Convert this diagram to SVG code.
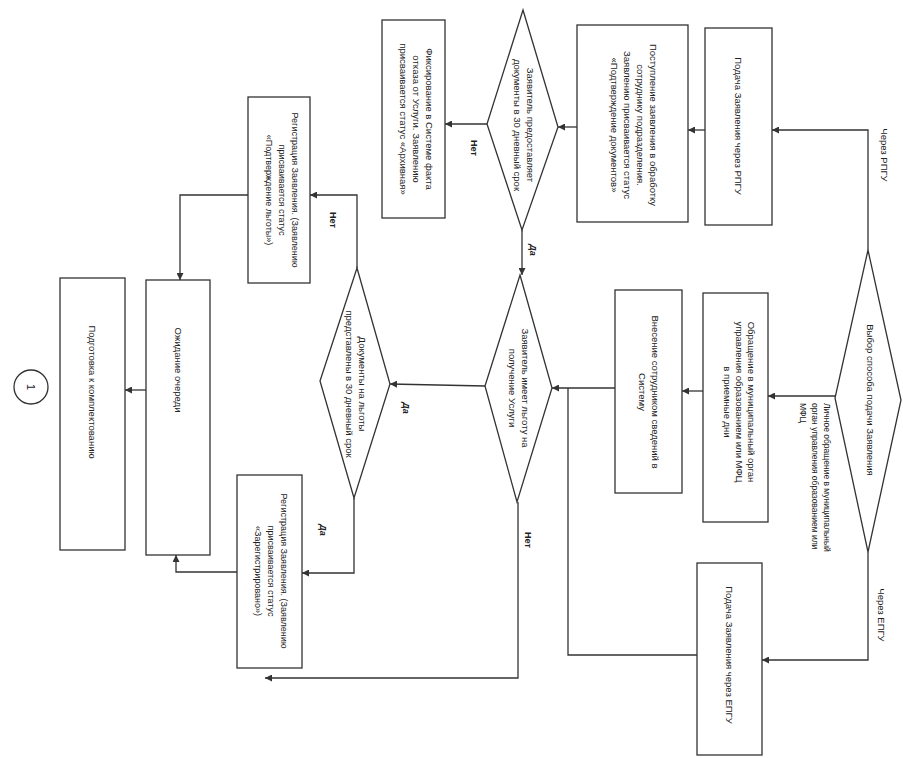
<svg xmlns="http://www.w3.org/2000/svg" width="903" height="758" viewBox="0 0 903 758">
<style>
.s{fill:#fff;stroke:#333;stroke-width:1.3}
.t{font-family:"Liberation Sans",Arial,sans-serif;font-size:9.5px;fill:#222;text-anchor:middle}
.l{font-family:"Liberation Sans",Arial,sans-serif;font-size:9px;fill:#222;text-anchor:middle;font-weight:bold}
.c{fill:none;stroke:#333;stroke-width:1.3}
</style>
<defs>
<marker id="a" viewBox="0 0 10 10" refX="10" refY="5" markerWidth="7" markerHeight="7" orient="auto" markerUnits="userSpaceOnUse">
<path d="M0,0 L10,5 L0,10 z" fill="#333"/>
</marker>
</defs>
<rect width="903" height="758" fill="#fff"/>
<g id="connectors">
<polyline class="c" points="868,250 868,130 772,130" marker-end="url(#a)"/>
<line class="c" x1="705" y1="130" x2="688" y2="130" marker-end="url(#a)"/>
<line class="c" x1="577" y1="127" x2="558" y2="127" marker-end="url(#a)"/>
<line class="c" x1="487" y1="124" x2="445" y2="124" marker-end="url(#a)"/>
<line class="c" x1="522" y1="230" x2="522" y2="275" marker-end="url(#a)"/>
<line class="c" x1="835" y1="396" x2="768" y2="396" marker-end="url(#a)"/>
<line class="c" x1="703" y1="391" x2="682" y2="391" marker-end="url(#a)"/>
<line class="c" x1="615" y1="388" x2="552" y2="388" marker-end="url(#a)"/>
<polyline class="c" points="697,655 568,655 568,388"/>
<polyline class="c" points="868,552 868,660 762,660" marker-end="url(#a)"/>
<line class="c" x1="485" y1="386" x2="390" y2="384" marker-end="url(#a)"/>
<polyline class="c" points="518,502 518,678 265,678" marker-end="url(#a)"/>
<polyline class="c" points="357,268 357,195 310,195" marker-end="url(#a)"/>
<polyline class="c" points="354,498 354,573 302,573" marker-end="url(#a)"/>
<polyline class="c" points="248,195 180,195 180,280" marker-end="url(#a)"/>
<polyline class="c" points="237,572 176,572 176,555" marker-end="url(#a)"/>
<line class="c" x1="146" y1="390" x2="125" y2="390" marker-end="url(#a)"/>
<g transform="translate(884,155) rotate(90)"><text class="t" y="3">Через РПГУ</text></g>
<g transform="translate(881,615) rotate(90)"><text class="t" y="3">Через ЕПГУ</text></g>
<g transform="translate(813,403) rotate(90)"><text class="t" style="text-anchor:start;font-size:8.5px"><tspan x="0" y="-11">Личное обращение в муниципальный</tspan><tspan x="0" y="1">орган управления образованием или</tspan><tspan x="0" y="13">МФЦ</tspan></text></g>
<g transform="translate(474,148) rotate(90)"><text class="l" y="3">Нет</text></g>
<g transform="translate(533,250) rotate(90)"><text class="l" y="3" font-style="italic">Да</text></g>
<g transform="translate(406,408) rotate(90)"><text class="l" y="3" font-style="italic">Да</text></g>
<g transform="translate(528,540) rotate(90)"><text class="l" y="3">Нет</text></g>
<g transform="translate(333,220) rotate(90)"><text class="l" y="3">Нет</text></g>
<g transform="translate(323,530) rotate(90)"><text class="l" y="3" font-style="italic">Да</text></g>
</g>
<g id="n1"><polygon class="s" points="868,250 901,400 868,552 835,398"/>
<g transform="translate(870,400) rotate(90)"><text class="t" y="3">Выбор способа подачи Заявления</text></g></g>
<g id="n2"><rect class="s" x="705" y="28" width="67" height="197"/>
<g transform="translate(738,126) rotate(90)"><text class="t" y="3">Подача Заявления через РПГУ</text></g></g>
<g id="n3"><rect class="s" x="577" y="25" width="111" height="197"/>
<g transform="translate(634,125) rotate(90)"><text class="t"><tspan x="0" y="-16">Поступление заявления в обработку</tspan><tspan x="0" y="-3">сотруднику подразделения.</tspan><tspan x="0" y="10">Заявлению присваивается статус</tspan><tspan x="0" y="23">«Подтверждение документов»</tspan></text></g></g>
<g id="n4"><polygon class="s" points="523,10 558,127 522,230 487,124"/>
<g transform="translate(523,125) rotate(90)"><text class="t"><tspan x="0" y="-4">Заявитель предоставляет</tspan><tspan x="0" y="9">документы в 30 дневный срок</tspan></text></g></g>
<g id="n5"><rect class="s" x="382" y="20" width="63" height="198"/>
<g transform="translate(416,119) rotate(90)"><text class="t"><tspan x="0" y="-10">Фиксирование в Системе факта</tspan><tspan x="0" y="3">отказа от Услуги. Заявлению</tspan><tspan x="0" y="16">присваивается статус «Архивная»</tspan></text></g></g>
<g id="n6"><rect class="s" x="248" y="97" width="62" height="186"/>
<g transform="translate(282,190) rotate(90)"><text class="t" style="font-size:9px"><tspan x="0" y="-10">Регистрация Заявления. (Заявлению</tspan><tspan x="0" y="3">присваивается статус</tspan><tspan x="0" y="16">«Подтверждение льготы»)</tspan></text></g></g>
<g id="n7"><rect class="s" x="703" y="293" width="65" height="229"/>
<g transform="translate(738,402) rotate(90)"><text class="t"><tspan x="0" y="-10">Обращение в муниципальный орган</tspan><tspan x="0" y="2">управления образованием или МФЦ</tspan><tspan x="0" y="14">в приемные дни</tspan></text></g></g>
<g id="n8"><rect class="s" x="615" y="290" width="67" height="203"/>
<g transform="translate(648,392) rotate(90)"><text class="t"><tspan x="0" y="-4">Внесение сотрудником сведений в</tspan><tspan x="0" y="9">Систему</tspan></text></g></g>
<g id="n9"><polygon class="s" points="520,275 552,388 517,502 485,386"/>
<g transform="translate(518,388) rotate(90)"><text class="t"><tspan x="0" y="-4">Заявитель имеет льготу на</tspan><tspan x="0" y="9">получение Услуги</tspan></text></g></g>
<g id="n10"><polygon class="s" points="357,268 390,384 354,498 320,381"/>
<g transform="translate(355,384) rotate(90)"><text class="t"><tspan x="0" y="-4">Документы на льготы</tspan><tspan x="0" y="9">представлены в 30 дневный срок</tspan></text></g></g>
<g id="n11"><rect class="s" x="237" y="475" width="65" height="193"/>
<g transform="translate(271,571) rotate(90)"><text class="t" style="font-size:9px"><tspan x="0" y="-10">Регистрация Заявления. (Заявлению</tspan><tspan x="0" y="3">присваивается статус</tspan><tspan x="0" y="16">«Зарегистрировано»)</tspan></text></g></g>
<g id="n12"><rect class="s" x="146" y="280" width="64" height="275"/>
<g transform="translate(178,370) rotate(90)"><text class="t" y="3">Ожидание очереди</text></g></g>
<g id="n13"><rect class="s" x="60" y="278" width="65" height="272"/>
<g transform="translate(92,392) rotate(90)"><text class="t" y="3">Подготовка к комплектованию</text></g></g>
<g id="n14"><circle class="s" cx="31" cy="387" r="17"/>
<g transform="translate(31,387) rotate(90)"><text class="t" y="4" style="font-size:11px">1</text></g></g>
<g id="n15"><rect class="s" x="697" y="563" width="65" height="192"/>
<g transform="translate(729,655) rotate(90)"><text class="t" y="3">Подача Заявления через ЕПГУ</text></g></g>
</svg>
